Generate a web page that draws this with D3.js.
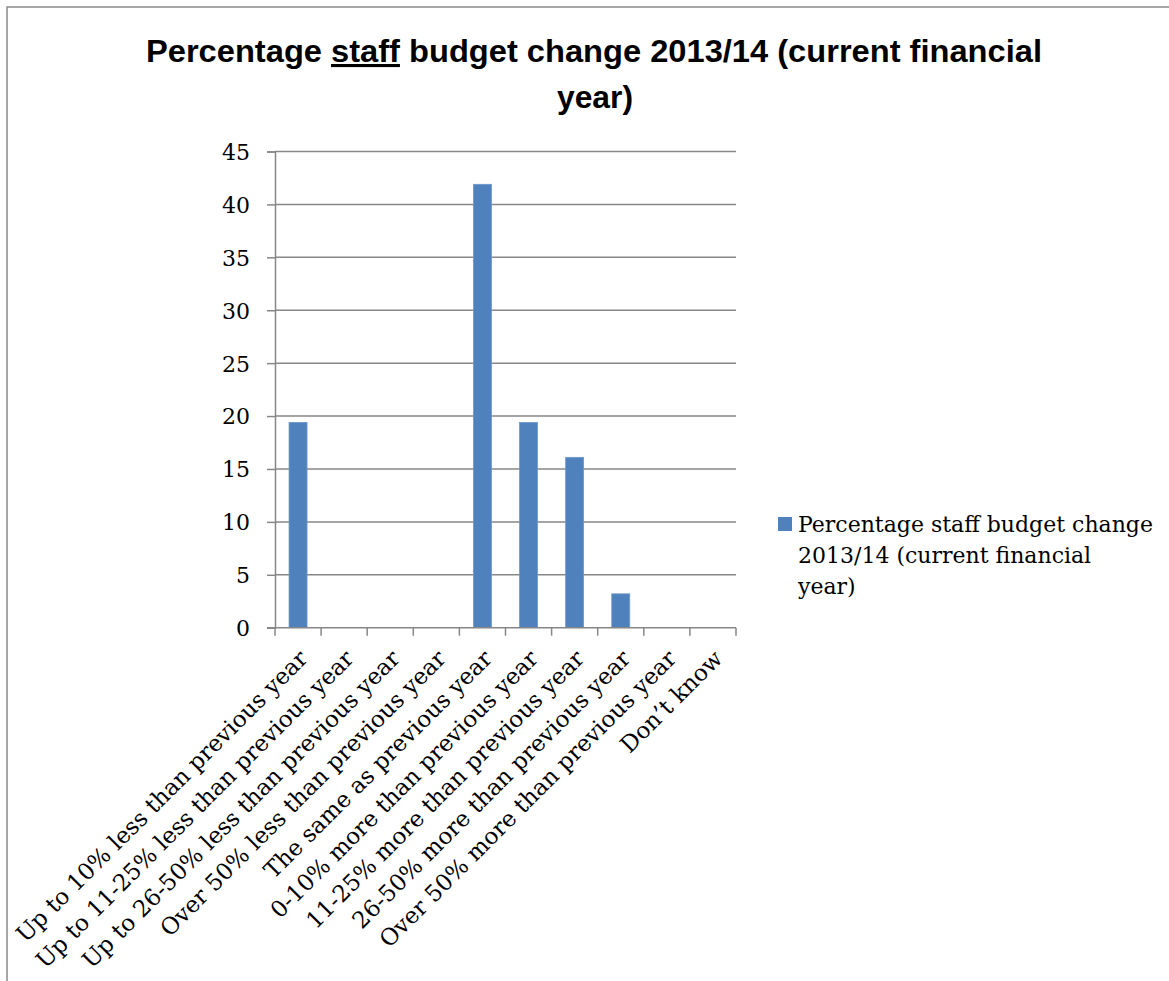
<!DOCTYPE html>
<html>
<head>
<meta charset="utf-8">
<script src="https://cdn.jsdelivr.net/npm/d3@7"></script>
<style>
  html, body { margin: 0; padding: 0; background: #fff; }
  svg { display: block; }
</style>
</head>
<body>
<script>
// Staff budget change categories and share of respondents (%)
const categories = [
  "Up to 10% less than previous year",
  "Up to 11-25% less than previous year",
  "Up to 26-50% less than previous year",
  "Over 50% less than previous year",
  "The same as previous year",
  "0-10% more than previous year",
  "11-25% more than previous year",
  "26-50% more than previous year",
  "Over 50% more than previous year",
  "Don\u2019t know"
];
const values = [19.4, 0, 0, 0, 41.9, 19.4, 16.1, 3.2, 0, 0];
const yTicks = [0, 5, 10, 15, 20, 25, 30, 35, 40, 45];
const seriesName = ["Percentage staff budget change", "2013/14 (current financial", "year)"];

const W = 1169, H = 981;
const svg = d3.select("body").append("svg").attr("width", W).attr("height", H);

const serif = "'DejaVu Serif', serif";
const gridColor = "#878787";
const barColor = "#4f81bd";

// chart frame
svg.append("rect")
  .attr("x", 7).attr("y", 7)
  .attr("width", W + 20).attr("height", H + 20)
  .attr("fill", "#fff").attr("stroke", "#8a8a8a").attr("stroke-width", 1.5);

// title
const title = svg.append("g").attr("font-family", "'Liberation Sans', Arial, sans-serif")
  .attr("font-weight", "bold").attr("font-size", 31).attr("fill", "#000");
const t1 = title.append("text").attr("x", 146).attr("y", 62)
  .attr("textLength", 896).attr("lengthAdjust", "spacingAndGlyphs");
t1.append("tspan").text("Percentage ");
t1.append("tspan").attr("text-decoration", "underline").style("text-decoration", "underline").text("staff");
t1.append("tspan").text(" budget change 2013/14 (current financial");
title.append("text").attr("x", 595).attr("y", 108).attr("text-anchor", "middle")
  .attr("textLength", 76).attr("lengthAdjust", "spacingAndGlyphs").text("year)");

// scales
const x = d3.scaleBand().domain(categories).range([275, 736]).padding(0);
const y = d3.scaleLinear().domain([0, 45]).range([627.7, 151.5]);
const barW = x.bandwidth() * 0.39;

// gridlines
svg.append("g").selectAll("line").data(yTicks.filter(d => d > 0)).join("line")
  .attr("x1", 275).attr("x2", 736)
  .attr("y1", d => y(d)).attr("y2", d => y(d))
  .attr("stroke", gridColor).attr("stroke-width", 1.5);

// y axis
const yAxis = svg.append("g").attr("transform", "translate(275,0)")
  .call(d3.axisLeft(y).tickValues(yTicks).tickSize(8).tickPadding(17).tickFormat(d3.format("d")));
yAxis.select(".domain").attr("stroke", gridColor).attr("stroke-width", 1.5);
yAxis.selectAll(".tick line").attr("stroke", gridColor).attr("stroke-width", 1.5);
yAxis.selectAll(".tick text").attr("font-family", serif).attr("font-size", 22)
  .attr("fill", "#000").attr("dy", "0.36em");

// bars
svg.append("g").selectAll("rect").data(values).join("rect")
  .attr("x", (d, i) => x(categories[i]) + (x.bandwidth() - barW) / 2)
  .attr("width", barW)
  .attr("y", d => y(d))
  .attr("height", d => y(0) - y(d))
  .attr("fill", barColor)
  .attr("stroke", "#6f97c9").attr("stroke-width", 0.8);

// x axis line and category boundary ticks
const x0 = y(0);
svg.append("line").attr("x1", 267).attr("x2", 736).attr("y1", x0).attr("y2", x0)
  .attr("stroke", gridColor).attr("stroke-width", 1.5);
const bounds = categories.map(c => x(c)).concat([x.range()[1]]);
svg.append("g").selectAll("line").data(bounds).join("line")
  .attr("x1", d => d).attr("x2", d => d)
  .attr("y1", x0).attr("y2", x0 + 8)
  .attr("stroke", gridColor).attr("stroke-width", 1.5);

// rotated category labels
svg.append("g").selectAll("text").data(categories).join("text")
  .attr("transform", d => `translate(${x(d) + x.bandwidth() / 2 + 11},660) rotate(-45)`)
  .attr("text-anchor", "end")
  .attr("font-family", serif).attr("font-size", 23).attr("fill", "#000")
  .text(d => d);

// legend
const lg = svg.append("g");
lg.append("rect").attr("x", 778).attr("y", 517).attr("width", 14).attr("height", 14)
  .attr("fill", barColor);
lg.selectAll("text").data(seriesName).join("text")
  .attr("x", 798).attr("y", (d, i) => 532 + i * 31)
  .attr("font-family", serif).attr("font-size", 22).attr("fill", "#000")
  .text(d => d);
</script>
</body>
</html>
